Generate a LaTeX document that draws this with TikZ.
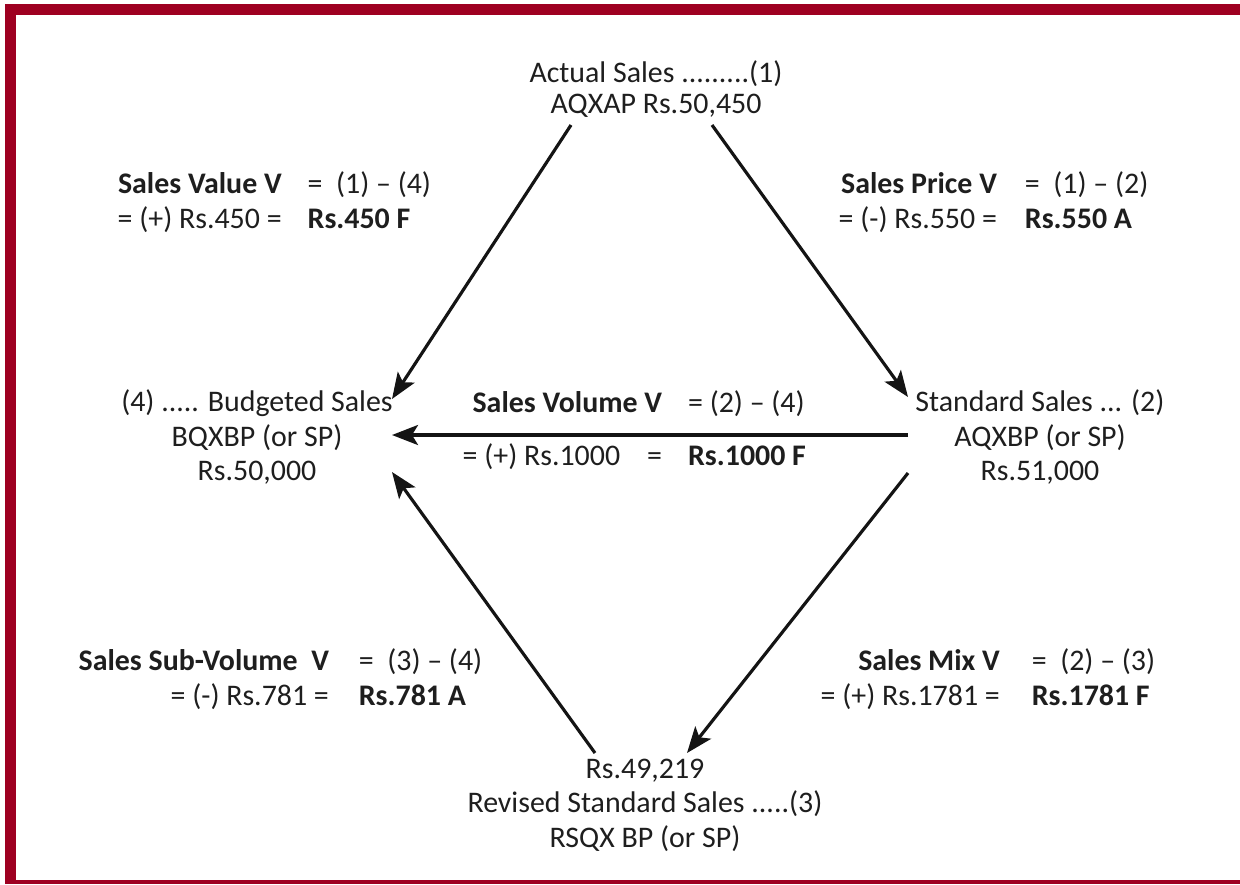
\documentclass[tikz,border=0pt]{standalone}
\usepackage{fontspec}
\setmainfont{Carlito}
\usetikzlibrary{arrows.meta,calc}
\definecolor{FrameRed}{HTML}{9E0021}
\definecolor{InkGray}{HTML}{1E1E1E}

\begin{document}
\begin{tikzpicture}[x=0.01cm,y=-0.01cm,>={Stealth[length=2.6mm,width=2mm,inset=0.6mm]},
  salesbox/.style={font=\fontsize{8.5}{9.8}\selectfont,text=InkGray,inner sep=0pt,align=center},
  varbox/.style={font=\fontsize{8.5}{9.8}\selectfont,text=InkGray,inner sep=0pt,anchor=west},
  flow/.style={->,line width=0.9pt,color=black!92}]
  \useasboundingbox (0,0) rectangle (1240,884);
  % frame, cut off at the right and bottom
  \fill[FrameRed] (5,4) rectangle (1240,15);
  \fill[FrameRed] (5,4) rectangle (16,884);
  \fill[FrameRed] (5,880) rectangle (1240,884);
  % the four sales figures
  \node[salesbox] (actual) at (656,89) {Actual Sales .........(1)\\[-1pt]AQXAP Rs.50,450};
  \node[salesbox] (budget) at (257,437) {(4) ..... Budgeted Sales\\BQXBP (or SP)\\Rs.50,000};
  \node[salesbox] (standard) at (1040,437) {Standard Sales ... (2)\\AQXBP (or SP)\\Rs.51,000};
  \node[salesbox] (revised) at (645,805) {Rs.49,219\\Revised Standard Sales .....(3)\\RSQX BP (or SP)};
  % variances
  \node[varbox] (value) at (117,204) {\begin{tabular}{@{}r@{\hspace{0.26cm}}l@{}}
    \textbf{Sales Value V} & =\ \ (1) -- (4)\\
    = (+) Rs.450 = & \textbf{Rs.450 F}\end{tabular}};
  \node[varbox] (price) at (838,204) {\begin{tabular}{@{}r@{\hspace{0.28cm}}l@{}}
    \textbf{Sales Price V} & =\ \ (1) -- (2)\\
    = (-) Rs.550 = & \textbf{Rs.550 A}\end{tabular}};
  \node[varbox] (volume) at (462,432) {\begin{tabular}{@{}r@{\hspace{0.26cm}}l@{}}
    \textbf{Sales Volume V} & = (2) -- (4)\\[0.185cm]
    = (+) Rs.1000\hspace{0.27cm}= & \textbf{Rs.1000 F}\end{tabular}};
  \node[varbox] (subvolume) at (78,681) {\begin{tabular}{@{}r@{\hspace{0.3cm}}l@{}}
    \textbf{Sales Sub-Volume\ \ V} & =\ \ (3) -- (4)\\
    = (-) Rs.781 = & \textbf{Rs.781 A}\end{tabular}};
  \node[varbox] (mix) at (820,681) {\begin{tabular}{@{}r@{\hspace{0.32cm}}l@{}}
    \textbf{Sales Mix V} & =\ \ (2) -- (3)\\
    = (+) Rs.1781 = & \textbf{Rs.1781 F}\end{tabular}};
  % arrows
  \draw[flow] ($(actual)+(-85,36)$) -- ($(budget)+(135,-38)$);
  \draw[flow] ($(actual)+(56,36)$) -- ($(standard)+(-132,-40)$);
  \draw[flow] ($(standard)+(-132,-2)$) -- ($(budget)+(135,-2)$);
  \draw[flow] ($(standard)+(-132,36)$) -- ($(revised)+(42,-52)$);
  \draw[flow] ($(revised)+(-50,-52)$) -- ($(budget)+(135,35)$);
\end{tikzpicture}
\end{document}
